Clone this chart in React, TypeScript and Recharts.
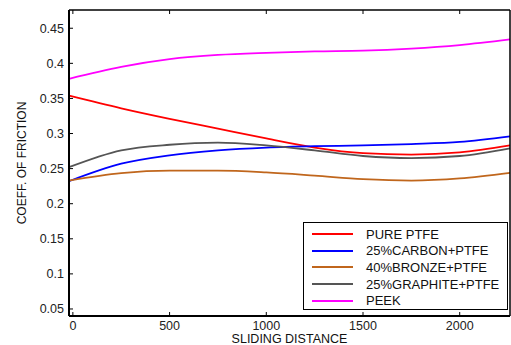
import { LineChart, Line, XAxis, YAxis, Legend } from "recharts";

const distance = [-20, 250, 500, 750, 1000, 1250, 1500, 1750, 2000, 2260];
const purePtfe = [0.354, 0.336, 0.321, 0.307, 0.293, 0.28, 0.272, 0.27, 0.273, 0.283];
const carbonPtfe = [0.232, 0.257, 0.269, 0.276, 0.28, 0.282, 0.283, 0.285, 0.288, 0.296];
const bronzePtfe = [0.233, 0.2435, 0.247, 0.247, 0.2445, 0.24, 0.235, 0.233, 0.236, 0.244];
const graphitePtfe = [0.252, 0.276, 0.284, 0.287, 0.283, 0.276, 0.268, 0.265, 0.268, 0.279];
const peek = [0.378, 0.395, 0.406, 0.412, 0.415, 0.417, 0.418, 0.421, 0.426, 0.434];

const xTicks = [0, 500, 1000, 1500, 2000];
const yTicks = [0.05, 0.1, 0.15, 0.2, 0.25, 0.3, 0.35, 0.4, 0.45];

const series = [
  { key: "pure", name: "PURE PTFE", color: "#ff0000" },
  { key: "carbon", name: "25%CARBON+PTFE", color: "#0000ff" },
  { key: "bronze", name: "40%BRONZE+PTFE", color: "#c0661c" },
  { key: "graphite", name: "25%GRAPHITE+PTFE", color: "#555555" },
  { key: "peek", name: "PEEK", color: "#ff00ff" },
];

const data = distance.map((d, i) => ({
  distance: d,
  pure: purePtfe[i],
  carbon: carbonPtfe[i],
  bronze: bronzePtfe[i],
  graphite: graphitePtfe[i],
  peek: peek[i],
}));

const FONT = "'Liberation Sans', Arial, sans-serif";
const tickStyle = { fill: "#222", fontSize: 12.5, fontFamily: FONT };

function LegendBox() {
  return (
    <div
      style={{
        border: "1.5px solid #000",
        background: "#fff",
        padding: "3px 0 3px 8px",
        fontFamily: FONT,
        fontSize: 13,
        color: "#111",
        boxSizing: "border-box",
        width: 205,
        height: 88,
      }}
    >
      {series.map((s) => (
        <div key={s.key} style={{ display: "flex", alignItems: "center", height: 16.6 }}>
          <svg width={41} height={4} style={{ marginRight: 13 }}>
            <line x1={0} y1={2} x2={41} y2={2} stroke={s.color} strokeWidth={2} />
          </svg>
          <span>{s.name}</span>
        </div>
      ))}
    </div>
  );
}

export default function App() {
  return (
    <div style={{ position: "absolute", left: 0, top: 0, background: "#fff" }}>
      <LineChart width={511} height={345} data={data} margin={{ top: 0, right: 0, bottom: 0, left: 0 }}>
        <XAxis
          xAxisId="bottom"
          dataKey="distance"
          type="number"
          domain={[-20, 2260]}
          ticks={xTicks}
          height={29}
          tickSize={-4}
          tickMargin={9}
          tick={tickStyle}
          stroke="#000"
          axisLine={{ stroke: "#000", strokeWidth: 2 }}
          tickLine={{ stroke: "#000" }}
          label={(props: any) => {
            const vb = props.viewBox || {};
            return (
              <text
                x={vb.x + vb.width / 2}
                y={343}
                textAnchor="middle"
                fontSize={12.5}
                fontFamily={FONT}
                fill="#111"
              >
                SLIDING DISTANCE
              </text>
            );
          }}
        />
        <XAxis
          xAxisId="top"
          orientation="top"
          dataKey="distance"
          type="number"
          domain={[-20, 2260]}
          ticks={xTicks}
          height={10}
          tickSize={-4}
          tickFormatter={() => ""}
          axisLine={{ stroke: "#000", strokeWidth: 1.5 }}
          tickLine={{ stroke: "#000" }}
        />
        <YAxis
          yAxisId="left"
          type="number"
          domain={[0.04, 0.476]}
          ticks={yTicks}
          width={69}
          tickSize={-4}
          tickMargin={9}
          tick={tickStyle}
          axisLine={{ stroke: "#000", strokeWidth: 2 }}
          tickLine={{ stroke: "#000" }}
          label={(props: any) => {
            const vb = props.viewBox || {};
            const cx = (vb.x || 0) + 22;
            const cy = vb.y + vb.height / 2;
            return (
              <text
                x={cx}
                y={cy}
                textAnchor="middle"
                dominantBaseline="central"
                transform={`rotate(-90, ${cx}, ${cy})`}
                fontSize={12}
                fontFamily={FONT}
                fill="#111"
              >
                COEFF. OF FRICTION
              </text>
            );
          }}
        />
        <YAxis
          yAxisId="right"
          orientation="right"
          type="number"
          domain={[0.04, 0.476]}
          ticks={yTicks}
          width={1}
          tickSize={-4}
          tickFormatter={() => ""}
          axisLine={{ stroke: "#000", strokeWidth: 1.5 }}
          tickLine={{ stroke: "#000" }}
        />
        <Legend
          layout="vertical"
          align="center"
          verticalAlign="middle"
          content={() => <LegendBox />}
          wrapperStyle={{ left: 303, top: 222, width: 205, height: 88 }}
        />
        {series.map((s) => (
          <Line
            key={s.key}
            xAxisId="bottom"
            yAxisId="left"
            type="monotone"
            dataKey={s.key}
            name={s.name}
            stroke={s.color}
            strokeWidth={1.8}
            dot={false}
            isAnimationActive={false}
          />
        ))}
      </LineChart>
    </div>
  );
}
